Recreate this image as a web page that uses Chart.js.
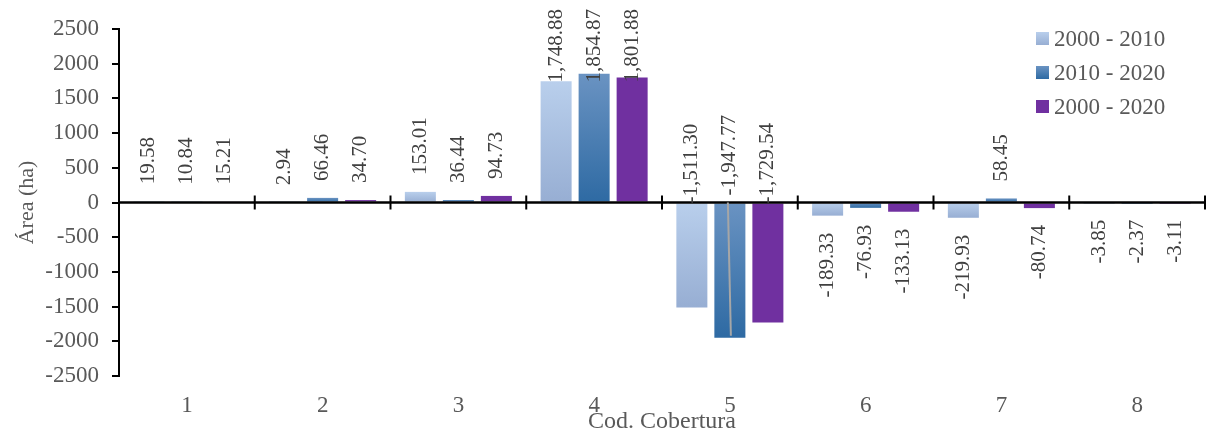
<!DOCTYPE html>
<html>
<head>
<meta charset="utf-8">
<script src="https://cdn.jsdelivr.net/npm/chart.js@4.4.0/dist/chart.umd.min.js"></script>
<style>
  body { margin: 0; background: #fff; }
</style>
</head>
<body>
<canvas id="cobertura-chart" width="1206" height="433"></canvas>
<script>
const categories = ['1', '2', '3', '4', '5', '6', '7', '8']
const seriesLabels = ['2000 - 2010', '2010 - 2020', '2000 - 2020']
const area2000_2010 = [19.58, 2.94, 153.01, 1748.88, -1511.30, -189.33, -219.93, -3.85]
const area2010_2020 = [10.84, 66.46, 36.44, 1854.87, -1947.77, -76.93, 58.45, -2.37]
const area2000_2020 = [15.21, 34.70, 94.73, 1801.88, -1729.54, -133.13, -80.74, -3.11]
const yTicks = [-2500, -2000, -1500, -1000, -500, 0, 500, 1000, 1500, 2000, 2500]

const serif = '"Liberation Serif", "Times New Roman", serif'
const grey = '#595959'

// vertical gradient over the bar's own height, light on top
const barFill = (top, bottom) => (context) => {
  const chart = context.chart
  const y = chart.scales.y
  if (context.raw === undefined || !y) return top
  const y0 = y.getPixelForValue(0)
  const y1 = y.getPixelForValue(context.raw)
  if (!isFinite(y0) || !isFinite(y1)) return top
  const g = chart.ctx.createLinearGradient(0, Math.min(y0, y1), 0, Math.max(y0, y1) + 0.01)
  g.addColorStop(0, top)
  g.addColorStop(1, bottom)
  return g
}

const fills = [
  ['#b9cfec', '#97aed3'],
  ['#6a93c2', '#2e6aa3'],
  ['#7030a0', '#7030a0']
]

const zeroAxis = {
  id: 'zeroAxis',
  afterDatasetsDraw(chart) {
    const { ctx, chartArea, scales: { x, y } } = chart
    const zeroY = y.getPixelForValue(0)
    const step = x.width / categories.length
    ctx.save()
    ctx.strokeStyle = '#000'
    ctx.lineWidth = 2.5
    ctx.beginPath()
    ctx.moveTo(chartArea.left, zeroY)
    ctx.lineTo(chartArea.right, zeroY)
    ctx.stroke()
    ctx.lineWidth = 2
    ctx.beginPath()
    for (let i = 1; i <= categories.length; i++) {
      const px = x.left + i * step
      ctx.moveTo(px, zeroY - 7)
      ctx.lineTo(px, zeroY + 7)
    }
    ctx.stroke()
    ctx.restore()
  }
}

const valueLabels = {
  id: 'valueLabels',
  afterDatasetsDraw(chart) {
    const { ctx, chartArea, scales } = chart
    const zeroY = scales.y.getPixelForValue(0)
    ctx.save()
    ctx.font = '21px ' + serif
    ctx.textBaseline = 'middle'
    ctx.textAlign = 'left'
    chart.data.datasets.forEach((ds, di) => {
      chart.getDatasetMeta(di).data.forEach((bar, i) => {
        const v = ds.data[i]
        const text = v.toLocaleString('en-US', { minimumFractionDigits: 2, maximumFractionDigits: 2 })
        const len = ctx.measureText(text).width
        let start
        if (v >= 0) {
          start = Math.max(bar.y - 17, 9 + len)
        } else {
          start = bar.y + 17 + len
          if (start > chartArea.bottom) {
            // no room below: label sits above the axis, with a leader for the longest bar
            start = zeroY + 1
            if (v === Math.min(...chart.data.datasets.map(d => d.data[i]))) {
              ctx.strokeStyle = '#a6a6a6'
              ctx.lineWidth = 2
              ctx.beginPath()
              ctx.moveTo(bar.x - 2, zeroY)
              ctx.lineTo(bar.x + 1, bar.y - 2)
              ctx.stroke()
              start = zeroY - 7
            }
          }
        }
        ctx.fillStyle = '#404040'
        ctx.save()
        ctx.translate(bar.x, start)
        ctx.rotate(-Math.PI / 2)
        ctx.fillText(text, 0, 0)
        ctx.restore()
      })
    })
    ctx.restore()
  }
}

const boxLegend = {
  id: 'boxLegend',
  afterDraw(chart) {
    const { ctx } = chart
    ctx.save()
    ctx.font = '23px ' + serif
    ctx.textBaseline = 'middle'
    ctx.textAlign = 'left'
    chart.data.datasets.forEach((ds, i) => {
      const cy = 38.5 + i * 34
      const g = ctx.createLinearGradient(0, cy - 6.5, 0, cy + 6.5)
      g.addColorStop(0, fills[i][0])
      g.addColorStop(1, fills[i][1])
      ctx.fillStyle = g
      ctx.fillRect(1036, cy - 6.5, 13, 13)
      ctx.fillStyle = grey
      ctx.fillText(ds.label, 1054, cy + 1)
    })
    ctx.restore()
  }
}

const ctx = document.getElementById('cobertura-chart')
new Chart(ctx, {
  type: 'bar',
  data: {
    labels: categories,
    datasets: [area2000_2010, area2010_2020, area2000_2020].map((values, i) => ({
      label: seriesLabels[i],
      data: values,
      backgroundColor: barFill(fills[i][0], fills[i][1]),
      borderWidth: 0,
      categoryPercentage: 0.84,
      barPercentage: 0.816
    }))
  },
  options: {
    responsive: false,
    animation: false,
    layout: { padding: { left: 14, top: 29, right: 1, bottom: 0 } },
    plugins: {
      legend: { display: false },
      tooltip: { enabled: false }
    },
    scales: {
      x: {
        grid: { display: false },
        border: { display: false },
        ticks: { color: grey, font: { family: serif, size: 23 }, padding: 8 },
        title: {
          display: true,
          text: 'Cod. Cobertura',
          color: grey,
          font: { family: serif, size: 24 },
          padding: { top: 0, bottom: -3 }
        },
        afterFit: (scale) => { scale.height = 57 }
      },
      y: {
        min: yTicks[0],
        max: yTicks[yTicks.length - 1],
        afterBuildTicks: (scale) => { scale.ticks = yTicks.map(v => ({ value: v })) },
        grid: { drawOnChartArea: false, tickLength: 7, color: '#000', lineWidth: 2 },
        border: { display: true, color: '#000', width: 2 },
        ticks: {
          color: grey,
          font: { family: serif, size: 23 },
          padding: 13,
          callback: (value) => String(value)
        },
        title: {
          display: true,
          text: 'Área (ha)',
          color: grey,
          font: { family: serif, size: 22 },
          padding: { top: 0, bottom: 0 }
        },
        afterFit: (scale) => { scale.width = 105 }
      }
    }
  },
  plugins: [zeroAxis, valueLabels, boxLegend]
})
</script>
</body>
</html>
